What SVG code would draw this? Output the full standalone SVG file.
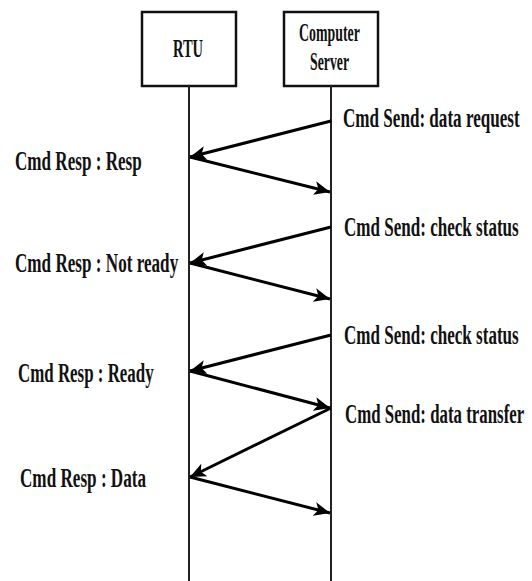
<svg xmlns="http://www.w3.org/2000/svg" width="532" height="581" viewBox="0 0 532 581">
<style>
.box{fill:#fff;stroke:#111;stroke-width:2.5}
.life{stroke:#222;stroke-width:2;fill:none}
.msg{stroke:#000;stroke-width:3;fill:none;marker-end:url(#ah)}
text{font-family:"Liberation Serif","Times New Roman",serif;font-weight:bold;fill:#111}
.lbl{font-size:27px}
.hd{font-size:25px}
</style>
<defs>
<marker id="ah" markerUnits="userSpaceOnUse" markerWidth="18" markerHeight="14" viewBox="0 0 18 14" refX="16" refY="7" orient="auto">
<path d="M0,0 L16,7 L0,14 L4,7 z" fill="#000"/>
</marker>
</defs>
<g id="rtu">
<rect class="box" x="142" y="12" width="94" height="74"/>
<text class="hd" transform="translate(173,57) scale(0.64,1)" textLength="47" lengthAdjust="spacingAndGlyphs">RTU</text>
</g>
<g id="server">
<rect class="box" x="284" y="12" width="94" height="74"/>
<text class="hd" transform="translate(299,41) scale(0.64,1)" textLength="95" lengthAdjust="spacingAndGlyphs">Computer</text>
<text class="hd" transform="translate(310,70) scale(0.64,1)" textLength="61" lengthAdjust="spacingAndGlyphs">Server</text>
</g>
<g id="lifelines">
<line class="life" x1="189" y1="86" x2="189" y2="581"/>
<line class="life" x1="331" y1="86" x2="331" y2="581"/>
</g>
<g id="connectors">
<line class="msg" x1="331" y1="121" x2="190" y2="157"/>
<line class="msg" x1="190" y1="157" x2="330" y2="192"/>
<line class="msg" x1="331" y1="227" x2="190" y2="263"/>
<line class="msg" x1="190" y1="263" x2="330" y2="299"/>
<line class="msg" x1="331" y1="335" x2="190" y2="371"/>
<line class="msg" x1="190" y1="371" x2="330" y2="408"/>
<line class="msg" x1="331" y1="408" x2="190" y2="477"/>
<line class="msg" x1="190" y1="477" x2="330" y2="513"/>
</g>
<g id="labels">
<text class="lbl" transform="translate(343,127) scale(0.64,1)" textLength="276" lengthAdjust="spacingAndGlyphs">Cmd Send: data request</text>
<text class="lbl" transform="translate(15,170) scale(0.64,1)" textLength="198" lengthAdjust="spacingAndGlyphs">Cmd Resp : Resp</text>
<text class="lbl" transform="translate(344,236) scale(0.64,1)" textLength="273" lengthAdjust="spacingAndGlyphs">Cmd Send: check status</text>
<text class="lbl" transform="translate(15,272) scale(0.64,1)" textLength="255" lengthAdjust="spacingAndGlyphs">Cmd Resp : Not ready</text>
<text class="lbl" transform="translate(344,344) scale(0.64,1)" textLength="273" lengthAdjust="spacingAndGlyphs">Cmd Send: check status</text>
<text class="lbl" transform="translate(18,382) scale(0.64,1)" textLength="212" lengthAdjust="spacingAndGlyphs">Cmd Resp : Ready</text>
<text class="lbl" transform="translate(345,423) scale(0.64,1)" textLength="280" lengthAdjust="spacingAndGlyphs">Cmd Send: data transfer</text>
<text class="lbl" transform="translate(20,487) scale(0.64,1)" textLength="197" lengthAdjust="spacingAndGlyphs">Cmd Resp : Data</text>
</g>
</svg>
